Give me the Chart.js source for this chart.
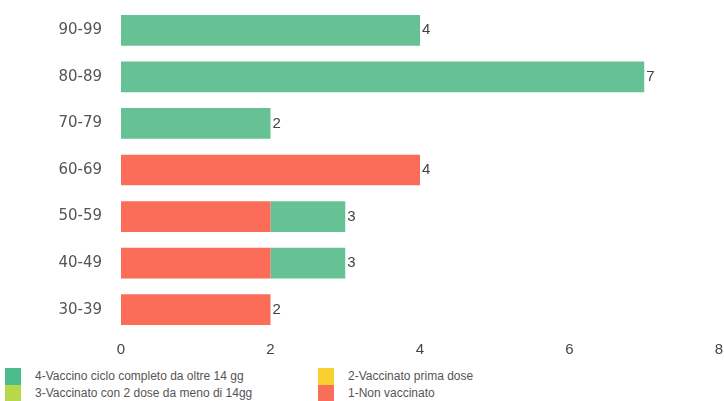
<!DOCTYPE html>
<html lang="it">
<head>
<meta charset="UTF-8" />
<title>Decessi per fascia d'età</title>
<script src="https://cdn.jsdelivr.net/npm/chart.js"></script>
<style>
  body { margin: 0; background: #fff; font-family: "Liberation Sans", Arial, sans-serif; overflow: hidden; }
  #wrap { position: relative; width: 724px; height: 401px; overflow: hidden; }
  #box { position: absolute; left: 0; top: -13px; width: 724px; height: 372px; }
  .legend { position: absolute; font-size: 12px; color: #555; line-height: 17px; }
  .legend div { display: flex; align-items: center; height: 17px; }
  .legend span.sw { display: inline-block; width: 16px; height: 17px; margin-right: 14px; }
</style>
</head>
<body>
<div id="wrap">
  <div id="box"><canvas id="chart"></canvas></div>
  <div class="legend" style="left:5px; top:368px;">
    <div><span class="sw" style="background:#4dbb8e"></span>4-Vaccino ciclo completo da oltre 14 gg</div>
    <div><span class="sw" style="background:#b7d84b"></span>3-Vaccinato con 2 dose da meno di 14gg</div>
  </div>
  <div class="legend" style="left:318px; top:368px;">
    <div><span class="sw" style="background:#f8d12f"></span>2-Vaccinato prima dose</div>
    <div><span class="sw" style="background:#f86e5b"></span>1-Non vaccinato</div>
  </div>
</div>
<script>
  const ageGroups = ["90-99", "80-89", "70-79", "60-69", "50-59", "40-49", "30-39"];
  const nonVaccinato = [0, 0, 0, 4, 2, 2, 2];
  const primaDose = [0, 0, 0, 0, 0, 0, 0];
  const dueDosiMeno14 = [0, 0, 0, 0, 0, 0, 0];
  const cicloCompleto = [4, 7, 2, 0, 1, 1, 0];
  const xTicks = [0, 2, 4, 6, 8];

  const totals = ageGroups.map((_, i) =>
    nonVaccinato[i] + primaDose[i] + dueDosiMeno14[i] + cicloCompleto[i]);

  // total label right after each bar
  const totalLabels = {
    id: "totalLabels",
    afterDatasetsDraw(chart) {
      const ctx = chart.ctx;
      const x = chart.scales.x, y = chart.scales.y;
      ctx.save();
      ctx.font = "15px 'Liberation Sans', Arial, sans-serif";
      ctx.fillStyle = "#444";
      ctx.textBaseline = "middle";
      totals.forEach((t, i) => {
        ctx.fillText(String(t), x.getPixelForValue(t) + 2, y.getPixelForValue(i));
      });
      ctx.restore();
    },
  };

  new Chart(document.getElementById("chart"), {
    type: "bar",
    data: {
      labels: ageGroups,
      datasets: [
        { label: "1-Non vaccinato", data: nonVaccinato, backgroundColor: "#fb6d58" },
        { label: "2-Vaccinato prima dose", data: primaDose, backgroundColor: "#f8d12f" },
        { label: "3-Vaccinato con 2 dose da meno di 14gg", data: dueDosiMeno14, backgroundColor: "#b7d84b" },
        { label: "4-Vaccino ciclo completo da oltre 14 gg", data: cicloCompleto, backgroundColor: "#66c194" },
      ],
    },
    options: {
      indexAxis: "y",
      responsive: true,
      maintainAspectRatio: false,
      animation: false,
      layout: { padding: { left: 0, right: 5, top: 4, bottom: 0 } },
      datasets: { bar: { categoryPercentage: 0.66, barPercentage: 1 } },
      plugins: { legend: { display: false }, tooltip: { enabled: false } },
      scales: {
        x: {
          stacked: true,
          min: 0,
          max: 8,
          afterBuildTicks: (s) => { s.ticks = xTicks.map((v) => ({ value: v })); },
          grid: { display: false },
          border: { display: false },
          ticks: { color: "#444", font: { size: 15, family: "'Liberation Sans', Arial, sans-serif" }, padding: 0 },
        },
        y: {
          stacked: true,
          afterFit: (s) => { s.width = 121; },
          grid: { display: false },
          border: { display: false },
          ticks: { color: "#555", font: { size: 15, family: "'DejaVu Sans', sans-serif" }, padding: 11 },
        },
      },
    },
    plugins: [totalLabels],
  });
</script>
</body>
</html>
